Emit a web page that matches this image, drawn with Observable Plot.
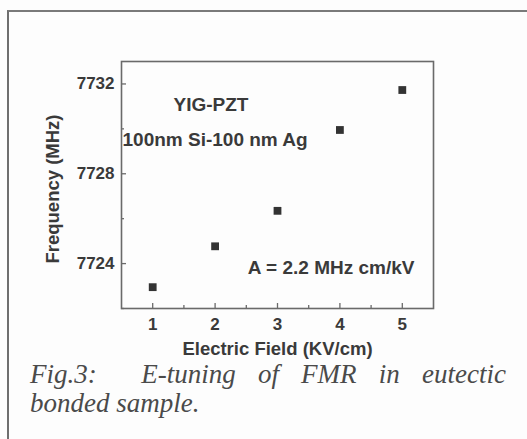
<!DOCTYPE html>
<html>
<head>
<meta charset="utf-8">
<script src="https://cdn.jsdelivr.net/npm/d3@7"></script>
<script src="https://cdn.jsdelivr.net/npm/@observablehq/plot@0.6"></script>
<style>
  html, body { margin: 0; padding: 0; background: #fdfdfd; }
  body { position: relative; width: 527px; height: 439px; overflow: hidden; font-family: "Liberation Sans", Arial, sans-serif; }
  #box { position: absolute; left: 7px; top: 10px; width: 530px; height: 440px;
         border-left: 2px solid #6f6f6f; border-top: 2px solid #7a7a7a; }
  #chart { position: absolute; left: 0; top: 0; }
  #caption { position: absolute; left: 30px; top: 360px; width: 476px;
             font-family: "Liberation Serif", "Times New Roman", serif; font-style: italic;
             font-size: 27px; line-height: 29px; color: #4a4a4a; }
  #caption .l1 { text-align: justify; text-align-last: justify; white-space: nowrap; }
</style>
</head>
<body>
<div id="box"></div>
<div id="chart"></div>
<div id="caption">
  <div class="l1">Fig.3:&nbsp; E-tuning of FMR in eutectic</div>
  <div>bonded sample.</div>
</div>
<script>
// Electric-field tuning of the FMR frequency
const fieldKVcm = [1, 2, 3, 4, 5];
const freqMHz = [7722.95, 7724.77, 7726.35, 7729.95, 7731.73];

const xTicks = [1, 2, 3, 4, 5];
const xMinorTicks = [1.5, 2.5, 3.5, 4.5];
const yTicks = [7724, 7728, 7732];
const yMinorTicks = [7722, 7726, 7730];

const xTitle = "Electric Field (KV/cm)";
const yTitle = "Frequency (MHz)";
const labels = ["YIG-PZT", "100nm Si-100 nm Ag", "A = 2.2 MHz cm/kV"];

const points = fieldKVcm.map((x, i) => ({x, y: freqMHz[i]}));

const W = 527, H = 360;
const M = {top: 61, right: 94, bottom: 52, left: 121};
const frameW = W - M.left - M.right;
const frameH = H - M.top - M.bottom;

const ink = "#3a3a3a";
const axisGray = "#6a6a6a";

// inward-pointing tick marks, drawn as short ticks hugging the frame edges
const inTicksX = (values, len) => Plot.tickX(values, {x: d => d, insetTop: frameH - len, stroke: axisGray, strokeWidth: 1.3});
const inTicksY = (values, len) => Plot.tickY(values, {y: d => d, insetRight: frameW - len, stroke: axisGray, strokeWidth: 1.3});

const chart = Plot.plot({
  width: W,
  height: H,
  marginLeft: M.left,
  marginTop: M.top,
  marginRight: M.right,
  marginBottom: M.bottom,
  style: {background: "transparent", fontFamily: "'Liberation Sans', Arial, sans-serif", color: ink},
  x: {domain: [0.5, 5.5]},
  y: {domain: [7722, 7733]},
  marks: [
    Plot.frame({stroke: axisGray, strokeWidth: 1.6}),
    inTicksX(xTicks, 5),
    inTicksX(xMinorTicks, 3),
    inTicksY(yTicks, 5),
    inTicksY(yMinorTicks, 3),
    Plot.axisX(xTicks, {tickSize: 0, tickPadding: 9, tickFormat: d => String(d),
      fontSize: 17, fontWeight: "bold", fill: ink, label: null}),
    Plot.axisY(yTicks, {tickSize: 0, tickPadding: 7, tickFormat: d => String(d),
      fontSize: 17, fontWeight: "bold", fill: ink, label: null}),
    // axis titles
    Plot.text([xTitle], {frameAnchor: "bottom", dy: 41, lineAnchor: "middle", textAnchor: "middle",
      text: d => d, fontSize: 18.5, fontWeight: "bold", fill: ink}),
    Plot.text([yTitle], {frameAnchor: "left", dx: -68, dy: 4, rotate: -90, textAnchor: "middle",
      lineAnchor: "middle", text: d => d, fontSize: 18.5, fontWeight: "bold", fill: ink}),
    Plot.dot(points, {x: "x", y: "y", symbol: "square", r: 4.4, fill: "#333", stroke: "none"}),
    Plot.text([labels[0]], {frameAnchor: "top-left", dx: 52, dy: 36, text: d => d,
      textAnchor: "start", fontSize: 19, fontWeight: "bold", fill: ink}),
    Plot.text([labels[1]], {frameAnchor: "top-left", dx: 1, dy: 71, text: d => d,
      textAnchor: "start", fontSize: 19, fontWeight: "bold", fill: ink}),
    Plot.text([labels[2]], {frameAnchor: "bottom-right", dx: -19, dy: -35, text: d => d,
      textAnchor: "end", fontSize: 19, fontWeight: "bold", fill: ink})
  ]
});
document.getElementById("chart").append(chart);
</script>
</body>
</html>
